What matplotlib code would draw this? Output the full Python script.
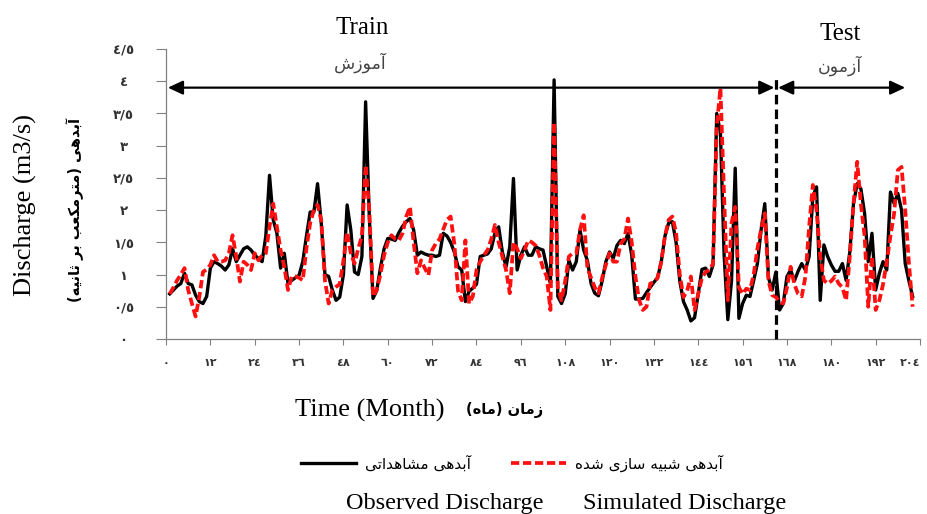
import numpy as np
import matplotlib
matplotlib.use("Agg")
import matplotlib.pyplot as plt

# monthly discharge (m3/s)
months = np.arange(1, 203)
observed = [
    0.70, 0.76, 0.82, 0.86, 1.02, 0.86, 0.84, 0.68, 0.58, 0.55, 0.66, 1.10,
    1.20, 1.17, 1.13, 1.07, 1.15, 1.40, 1.20, 1.30, 1.40, 1.43, 1.38, 1.30,
    1.25, 1.20, 1.60, 2.54, 1.85, 1.64, 1.10, 1.33, 0.86, 0.91, 0.95, 0.99,
    1.20, 1.60, 1.97, 1.97, 2.41, 1.80, 1.00, 0.97, 0.76, 0.60, 0.65, 1.00,
    2.08, 1.69, 1.04, 1.00, 1.28, 3.68, 1.90, 0.63, 0.75, 1.10, 1.40, 1.56,
    1.55, 1.53, 1.65, 1.75, 1.82, 1.87, 1.69, 1.30, 1.35, 1.32, 1.30, 1.30,
    1.28, 1.30, 1.64, 1.60, 1.50, 1.35, 1.12, 1.07, 0.58, 0.74, 0.79, 0.85,
    1.28, 1.30, 1.32, 1.40, 1.65, 1.74, 1.35, 1.12, 1.43, 2.49, 1.07, 1.30,
    1.43, 1.30, 1.30, 1.43, 1.40, 1.38, 1.12, 0.86, 4.02, 0.66, 0.55, 0.70,
    1.22, 1.07, 1.20, 1.69, 1.38, 1.22, 0.86, 0.71, 0.67, 0.90, 1.20, 1.35,
    1.25, 1.45, 1.53, 1.48, 1.64, 1.30, 0.62, 0.62, 0.63, 0.72, 0.80, 0.88,
    0.95, 1.20, 1.60, 1.80, 1.82, 1.50, 0.90, 0.58, 0.45, 0.28, 0.33, 0.70,
    1.08, 1.10, 0.97, 1.15, 3.50, 3.20, 1.30, 0.30, 0.90, 2.65, 0.32, 0.55,
    0.68, 0.66, 0.91, 1.17, 1.69, 2.10, 0.95, 0.76, 1.04, 0.45, 0.55, 0.97,
    1.07, 0.90, 1.05, 1.17, 1.07, 1.28, 2.21, 2.36, 0.60, 1.46, 1.28, 1.15,
    1.05, 1.05, 1.17, 0.91, 1.35, 2.10, 2.41, 2.33, 1.95, 1.20, 1.64, 0.76,
    1.02, 1.20, 1.07, 2.28, 2.10, 2.26, 2.00, 1.17, 0.90, 0.66,
]
simulated = [
    0.70, 0.80, 0.91, 1.00, 1.10, 0.76, 0.55, 0.35, 0.65, 1.04, 1.08, 1.15,
    1.30, 1.20, 1.20, 1.22, 1.33, 1.61, 1.28, 0.89, 1.20, 1.15, 1.07, 1.33,
    1.22, 1.30, 1.33, 1.74, 2.10, 1.74, 1.38, 1.12, 0.76, 0.97, 0.97, 0.95,
    0.91, 1.41, 1.80, 2.00, 2.08, 1.84, 0.91, 0.55, 0.76, 0.81, 0.85, 1.22,
    1.66, 1.33, 1.17, 1.40, 1.60, 2.70, 2.00, 0.66, 0.76, 1.00, 1.30, 1.50,
    1.61, 1.55, 1.53, 1.64, 1.90, 2.05, 1.50, 1.02, 1.22, 1.10, 0.99, 1.38,
    1.48, 1.55, 1.70, 1.85, 1.90, 1.48, 0.75, 0.60, 1.53, 0.55, 0.66, 1.07,
    1.20, 1.30, 1.38, 1.55, 1.77, 1.50, 1.28, 1.07, 0.71, 1.50, 1.40, 1.25,
    1.38, 1.53, 1.50, 1.45, 1.30, 1.10, 0.97, 0.45, 3.36, 0.80, 0.60, 0.90,
    1.28, 1.33, 1.33, 1.69, 1.92, 1.10, 0.95, 0.80, 0.71, 0.95, 1.15, 1.33,
    1.20, 1.20, 1.48, 1.55, 1.87, 1.50, 0.97, 0.60, 0.45, 0.50, 0.86, 0.88,
    0.95, 1.20, 1.60, 1.85, 1.90, 1.65, 1.00, 0.65, 0.75, 0.97, 0.45, 0.70,
    0.95, 1.04, 1.07, 1.17, 3.30, 3.89, 2.20, 0.60, 1.80, 2.05, 0.80, 0.70,
    0.78, 0.76, 1.00, 1.40, 1.70, 1.95, 0.90, 0.68, 0.65, 0.58, 0.55, 0.80,
    1.12, 0.85, 0.70, 0.66, 0.97, 1.74, 2.39, 2.00, 1.28, 0.91, 0.86, 0.90,
    0.97, 0.86, 0.80, 0.60, 1.28, 2.10, 2.75, 2.10, 1.60, 0.50, 1.28, 0.45,
    0.60, 0.85, 1.20, 1.60, 1.95, 2.62, 2.67, 2.00, 1.17, 0.50,
]
split_month = 165.1          # end of training period
train_span = (0.5, 164.6)
test_span = (165.6, 200.0)

x_ticks = list(range(0, 205, 12))
y_ticks = [0, 0.5, 1, 1.5, 2, 2.5, 3, 3.5, 4, 4.5]

# Persian text (logical order)
txt_train = "آموزش"
txt_test = "آزمون"
txt_ylabel = "آبدهی (مترمکعب بر ثانیه)"
txt_xlabel = "زمان (ماه)"
txt_obs = "آبدهی مشاهداتی"
txt_sim = "آبدهی شبیه سازی شده"

# --- minimal Arabic-script shaping (matplotlib has no bidi / joining) ---
# letter: (isolated, final, initial, medial)
FORMS = {
    "ا": ("\uFE8D", "\uFE8E", None, None),
    "آ": ("\uFE81", "\uFE82", None, None),
    "ب": ("\uFE8F", "\uFE90", "\uFE91", "\uFE92"),
    "ت": ("\uFE95", "\uFE96", "\uFE97", "\uFE98"),
    "ث": ("\uFE99", "\uFE9A", "\uFE9B", "\uFE9C"),
    "د": ("\uFEA9", "\uFEAA", None, None),
    "ر": ("\uFEAD", "\uFEAE", None, None),
    "ز": ("\uFEAF", "\uFEB0", None, None),
    "س": ("\uFEB1", "\uFEB2", "\uFEB3", "\uFEB4"),
    "ش": ("\uFEB5", "\uFEB6", "\uFEB7", "\uFEB8"),
    "ع": ("\uFEC9", "\uFECA", "\uFECB", "\uFECC"),
    "م": ("\uFEE1", "\uFEE2", "\uFEE3", "\uFEE4"),
    "ن": ("\uFEE5", "\uFEE6", "\uFEE7", "\uFEE8"),
    "ه": ("\uFEE9", "\uFEEA", "\uFEEB", "\uFEEC"),
    "و": ("\uFEED", "\uFEEE", None, None),
    "ک": ("\uFB8E", "\uFB8F", "\uFB90", "\uFB91"),
    "ی": ("\uFBFC", "\uFBFD", "\uFBFE", "\uFBFF"),
}


def fa(text):
    out = []
    for i, ch in enumerate(text):
        if ch not in FORMS:
            out.append(ch)
            continue
        iso, fin, ini, med = FORMS[ch]
        prev = text[i - 1] if i > 0 else ""
        nxt = text[i + 1] if i + 1 < len(text) else ""
        jp = prev in FORMS and FORMS[prev][2] is not None
        jn = nxt in FORMS and ini is not None
        if jp and jn:
            out.append(med)
        elif jp:
            out.append(fin)
        elif jn:
            out.append(ini)
        else:
            out.append(iso)
    vis = "".join(out)[::-1]
    return vis.translate(str.maketrans("()", ")("))


def ar_num(v):
    s = ("%g" % v).replace(".", "/")
    return s.translate(str.maketrans("0123456789", "٠١٢٣٤٥٦٧٨٩"))


serif = "Liberation Serif"
arab = "DejaVu Sans"
grey = "#808080"

fig = plt.figure(figsize=(9.28, 5.14), dpi=100)
ax = fig.add_axes([0.1789, 0.3405, 0.8125, 0.5642])

ax.plot(months, observed, color="black", lw=2.4, solid_joinstyle="round", zorder=3)
ax.plot(months, simulated, color="#ff1010", lw=2.7, dashes=(2.2, 1.0), zorder=4)

ax.set_xlim(0, 204)
ax.set_ylim(0, 4.5)
for s in ["top", "right"]:
    ax.spines[s].set_visible(False)
for s in ["left", "bottom"]:
    ax.spines[s].set_color(grey)
    ax.spines[s].set_linewidth(0.9)

ax.set_xticks(x_ticks)
ax.set_xticklabels([ar_num(v) for v in x_ticks], family=arab, fontsize=8,
                   fontweight="bold", color="#333333")
ax.set_yticks(y_ticks)
ax.set_yticklabels([ar_num(v) for v in y_ticks], family=arab, fontsize=9.5,
                   fontweight="bold", color="#333333")
ax.tick_params(axis="x", direction="out", length=4.5, color=grey, pad=9)
ax.tick_params(axis="y", direction="out", length=7.5, color=grey, pad=23)
for lbl in ax.get_yticklabels():
    lbl.set_ha("center")
ax.get_xticklabels()[-1].set_ha("right")

# train / test split and arrows
ax.plot([split_month, split_month], [0, 4.05], color="black", lw=2.3,
        dashes=(3.0, 1.6), clip_on=False, zorder=5)
arrow = dict(arrowstyle="<|-|>,head_length=0.9,head_width=0.42", color="black",
             lw=1.6, mutation_scale=10, shrinkA=0, shrinkB=0)
ax.annotate("", xy=(train_span[1], 3.9), xytext=(train_span[0], 3.9),
            arrowprops=arrow, annotation_clip=False)
ax.annotate("", xy=(test_span[1], 3.9), xytext=(test_span[0], 3.9),
            arrowprops=arrow, annotation_clip=False)

fig.text(362 / 928, 1 - 28 / 514, "Train", family=serif, fontsize=18,
         ha="center", va="center")
fig.text(360 / 928, 1 - 63 / 514, fa(txt_train), family=arab, fontsize=12.5,
         color="#444444", ha="center", va="center")
fig.text(840 / 928, 1 - 34 / 514, "Test", family=serif, fontsize=18,
         ha="center", va="center")
fig.text(840 / 928, 1 - 66 / 514, fa(txt_test), family=arab, fontsize=12.5,
         color="#444444", ha="center", va="center")

# axis titles
fig.text(25 / 928, 1 - 205 / 514, "Discharge (m3/s)", family=serif,
         fontsize=19, rotation=90, ha="center", va="center")
fig.text(75 / 928, 1 - 210 / 514, fa(txt_ylabel), family=arab, fontsize=10.5,
         fontweight="bold", rotation=90, ha="center", va="center")
fig.text(370 / 928, 1 - 410 / 514, "Time (Month)", family=serif,
         fontsize=19, ha="center", va="center")
fig.text(505 / 928, 1 - 410 / 514, fa(txt_xlabel), family=arab, fontsize=10.5,
         fontweight="bold", ha="center", va="center")

# legend
lines = ax.get_lines()[:2]
leg = fig.legend(lines, [fa(txt_obs), fa(txt_sim)], loc="center",
                 bbox_to_anchor=(512 / 928, 1 - 463 / 514), ncol=2,
                 frameon=False, handlelength=3.6, handletextpad=0.6,
                 columnspacing=2.6, prop={"family": arab, "size": 11})
fig.text(445 / 928, 1 - 503 / 514, "Observed Discharge", family=serif,
         fontsize=17.5, ha="center", va="center")
fig.text(685 / 928, 1 - 503 / 514, "Simulated Discharge", family=serif,
         fontsize=17.5, ha="center", va="center")

fig.savefig("out.png", dpi=100)
